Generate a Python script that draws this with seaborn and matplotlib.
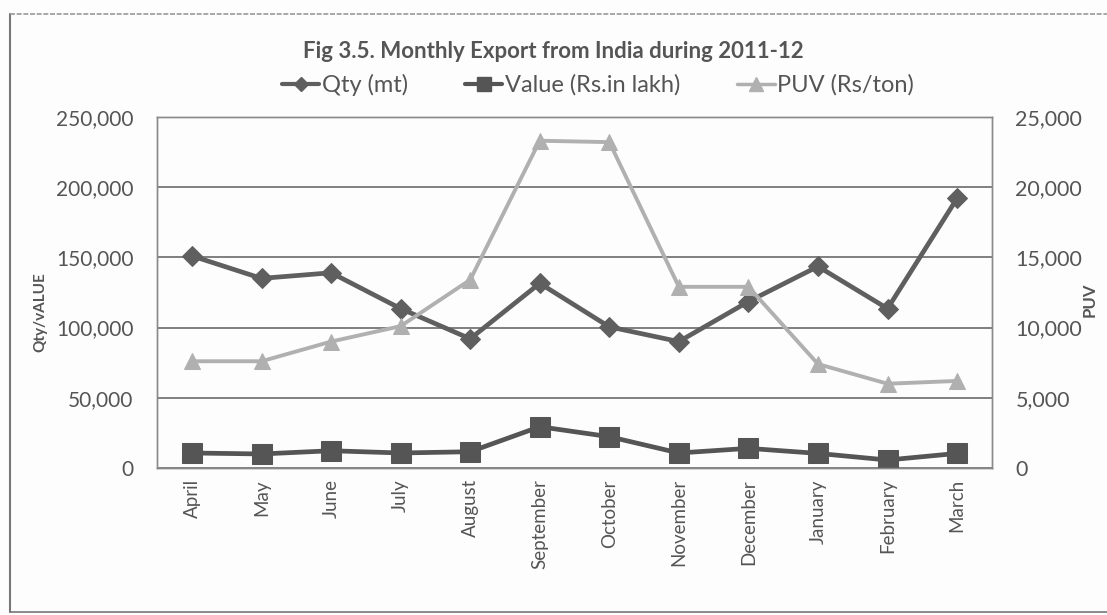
import matplotlib
matplotlib.use("Agg")
import matplotlib.pyplot as plt
import seaborn as sns
import pandas as pd
from matplotlib.lines import Line2D
from matplotlib.ticker import FuncFormatter

months = ["April", "May", "June", "July", "August", "September", "October",
          "November", "December", "January", "February", "March"]
qty = [151000, 135000, 139000, 113500, 92000, 131500, 100500, 90000, 118500, 143500, 113500, 192000]
value = [10700, 10000, 12300, 10700, 11600, 29400, 22300, 10700, 14000, 10400, 5700, 10400]
puv = [7600, 7600, 9000, 10100, 13400, 23300, 23200, 12900, 12900, 7400, 6000, 6200]

sns.set_theme(style="white")
plt.rcParams['font.family'] = ['Lato', 'DejaVu Sans']

df = pd.DataFrame({"Month": months, "Qty": qty, "Value": value, "PUV": puv})
df["x"] = range(len(months))

fig = plt.figure(figsize=(11.07, 6.15), dpi=100)
fig.patch.set_facecolor("#fdfdfd")
ax = fig.add_axes([0.142, 0.239, 0.754, 0.571])
ax2 = ax.twinx()

qcol = "#5f5f5f"
vcol = "#555555"
pcol = "#b0b0b0"
txtc = "#555555"

sns.lineplot(data=df, x="x", y="Qty", ax=ax, color=qcol, lw=3.4, marker="D",
             markersize=10, markeredgecolor=qcol, legend=False, zorder=4)
sns.lineplot(data=df, x="x", y="Value", ax=ax, color=vcol, lw=3.4, marker="s",
             markersize=14, markeredgecolor=vcol, legend=False, zorder=4)
sns.lineplot(data=df, x="x", y="PUV", ax=ax2, color=pcol, lw=2.8, marker="^",
             markersize=12, markeredgecolor=pcol, legend=False, zorder=3)

ax.set_ylim(0, 250000)
ax2.set_ylim(0, 25000)
ax.set_yticks(range(0, 250001, 50000))
ax2.set_yticks(range(0, 25001, 5000))
ax.set_xlim(-0.5, 11.5)
ax.set_xticks(range(12))
ax.set_xticklabels(months, rotation=90, fontsize=13.5, color=txtc)
fmt = FuncFormatter(lambda v, p: f"{int(v):,}")
ax.yaxis.set_major_formatter(fmt)
ax2.yaxis.set_major_formatter(fmt)
ax.tick_params(axis="y", labelsize=15, colors=txtc, length=0, pad=17)
ax2.tick_params(axis="y", labelsize=15.5, colors=txtc, length=0, pad=17)
ax.tick_params(axis="x", length=0, pad=8)
ax.grid(axis="y", color="#6a6a6a", lw=1.2)
ax.set_axisbelow(True)
ax.set_xlabel("")
ax.set_ylabel("Qty/vALUE", fontsize=11, fontweight="bold", color=txtc)
ax.yaxis.set_label_coords(-0.131, 0.444)
ax2.set_ylabel("PUV", fontsize=12, fontweight="bold", color=txtc, rotation=90)
ax2.yaxis.set_label_coords(1.107, 0.48)
ax2.grid(False)
for a in (ax, ax2):
    for s in a.spines.values():
        s.set_color("#8a8a8a")
        s.set_linewidth(1.0)
ax.set_facecolor("none")

fig.text(0.500, 0.917, "Fig 3.5. Monthly Export from India during 2011-12",
         ha="center", va="center", fontsize=16, fontweight="bold", color=txtc)

handles = [
    Line2D([0], [0], color=qcol, lw=3, marker="D", markersize=7, label="Qty (mt)"),
    Line2D([0], [0], color=vcol, lw=3, marker="s", markersize=10, label="Value (Rs.in lakh)"),
    Line2D([0], [0], color=pcol, lw=2.5, marker="^", markersize=10, label="PUV (Rs/ton)"),
]
leg = fig.legend(handles=handles, loc="center", bbox_to_anchor=(0.540, 0.862), ncol=3,
                 frameon=False, fontsize=17, handlelength=1.6, handletextpad=0.1,
                 columnspacing=2.4)
for t in leg.get_texts():
    t.set_color(txtc)

# outer chart frame
fig.add_artist(Line2D([10/1107, 10/1107], [1-14/615, 1-612/615], color="#777777", lw=1.5))
fig.add_artist(Line2D([10/1107, 1.0], [1-14/615, 1-14/615], color="#999999", lw=1.2, ls=(0, (3, 1))))
fig.add_artist(Line2D([10/1107, 1.0], [1-612/615, 1-612/615], color="#777777", lw=1.2))

fig.savefig("out.png", dpi=100, facecolor=fig.get_facecolor())
